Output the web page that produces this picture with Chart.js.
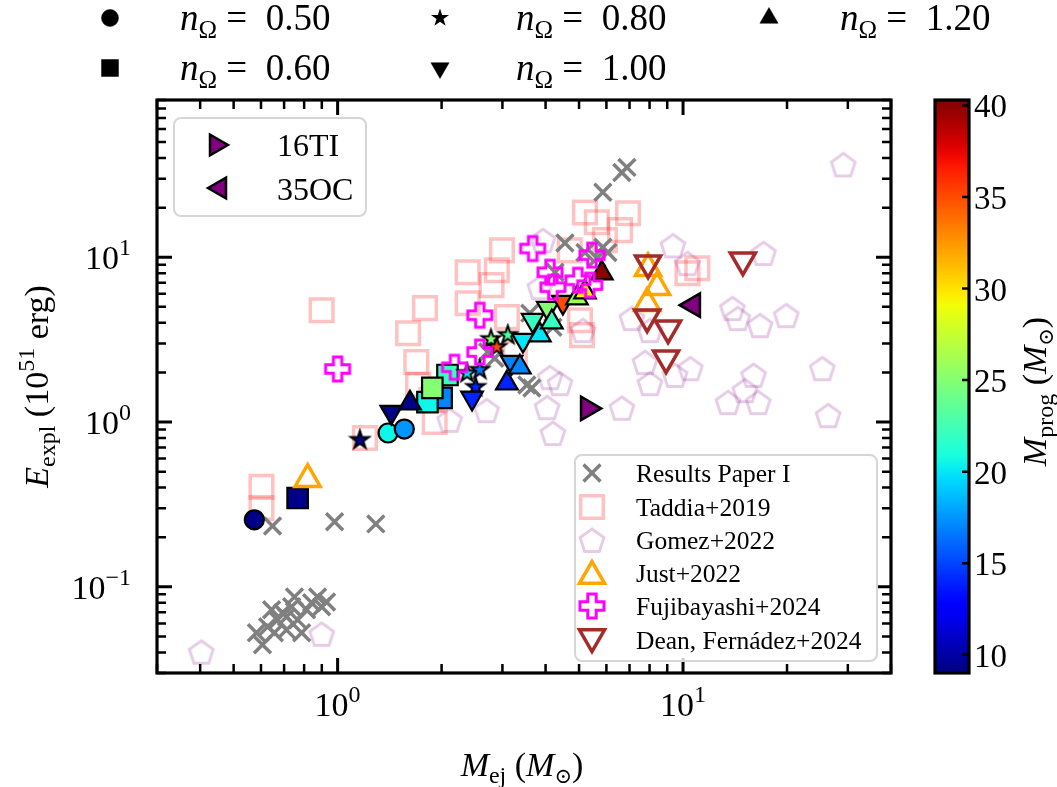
<!DOCTYPE html>
<html>
<head>
<meta charset="utf-8">
<script src="https://cdn.jsdelivr.net/npm/chart.js@4"></script>
<style>
  html, body { margin: 0; padding: 0; background: #fff; }
  #wrap { position: relative; width: 1057px; height: 787px; }
  #wrap canvas { position: absolute; left: 0; top: 0; }
</style>
</head>
<body>
<div id="wrap">
  <canvas id="main" width="1057" height="787"></canvas>
  <canvas id="cbar" width="1057" height="787"></canvas>
</div>
<script>
/* global Chart */

// Results Paper I
const paperIEj = [0.582, 0.606, 0.627, 0.644, 0.670, 0.693, 0.711, 0.736, 0.750, 0.766, 0.787, 0.813, 0.841, 0.875, 0.899, 0.929, 0.711, 0.656,
  0.648, 0.98, 1.29,
  2.72, 2.85, 3.53, 3.60, 4.2, 4.55, 5.2, 4.26, 5.86, 6.06, 5.63, 5.86, 6.65, 6.88, 3.65];
const paperIExpl = [0.0526, 0.0445, 0.0573, 0.0726, 0.063, 0.0696, 0.0548, 0.0757, 0.0869, 0.063, 0.0526, 0.0726, 0.080, 0.0869, 0.0757, 0.081, 0.0657, 0.0526,
  0.234, 0.248, 0.241,
  2.66, 2.44, 1.68, 4.58, 3.76, 12.2, 10.7, 8.11, 11.5, 10.7, 9.86, 24.8, 32.7, 35.1, 1.61];

// observations / other simulations
const taddiaEj = [0.899, 1.60, 1.79, 1.69, 1.71, 0.602, 0.602, 1.20, 1.91, 1.87, 2.38, 2.89, 2.99, 2.79, 2.38, 3.09, 3.26, 5.2, 5.63, 6.93, 6.57, 5.94, 4.7, 5.03, 5.10, 10.3, 11.0];
const taddiaExpl = [4.77, 3.46, 4.91, 2.31, 1.68, 0.404, 0.301, 0.80, 1.00, 1.36, 8.11, 8.34, 11.0, 6.77, 5.26, 4.33, 2.62, 18.7, 16.3, 18.5, 14.6, 12.7, 11.0, 4.15, 3.37, 8.0, 8.57];
const gomezEj = [0.403, 0.899, 29.1, 3.93, 9.35, 10.3, 17.1, 7.11, 8.02, 5.13, 13.9, 14.4, 16.7, 19.9, 7.76, 8.02, 9.48, 10.5, 16.0, 15.1, 13.5, 16.5, 25.3, 26.3, 6.65, 2.70, 4.04, 4.12, 2.11, 3.85, 4.40, 4.20];
const gomezExpl = [0.0404, 0.0519, 36.6, 12.7, 11.8, 9.2, 10.6, 4.27, 3.61, 3.61, 4.91, 4.27, 3.87, 4.45, 2.31, 1.72, 1.93, 2.12, 1.93, 1.56, 1.32, 1.32, 2.12, 1.10, 1.22, 1.18, 1.23, 1.87, 1.03, 6.58, 1.72, 0.858];
const justEj = [0.819, 7.92, 8.41, 7.87];
const justExpl = [0.45, 8.57, 6.58, 5.26];
const fujiEj = [1.0, 2.18, 2.58, 2.58, 3.67, 4.12, 4.20, 4.96, 5.45, 5.37];
const fujiExpl = [2.1, 2.15, 2.66, 4.45, 11.3, 8.11, 6.58, 7.25, 10.3, 6.77];
const deanEj = [7.92, 14.9, 7.87, 9.05, 8.93];
const deanExpl = [9.2, 9.6, 4.33, 3.71, 2.44];

// models, one set per n_Omega (ejecta mass, explosion energy, progenitor mass)
const n050Ej = [0.574, 1.40, 1.56];
const n050Expl = [0.255, 0.858, 0.907];
const n050Prog = [9.3, 20.5, 17.5];
const n060Ej = [2.08, 2.0, 1.82, 1.88, 0.766];
const n060Expl = [1.93, 1.40, 1.32, 1.61, 0.346];
const n060Prog = [22, 17, 20.5, 25, 9.3];
const n080Ej = [1.16, 2.51, 2.37, 2.58, 2.78, 2.89, 3.11];
const n080Expl = [0.778, 1.63, 1.98, 2.07, 3.18, 2.85, 3.37];
const n080Prog = [9.5, 14, 20, 16.5, 25, 35, 23];
const n100Ej = [1.43, 2.45, 3.19, 3.44, 3.67, 4.06, 4.49];
const n100Expl = [1.15, 1.40, 2.31, 3.14, 4.15, 4.91, 5.34];
const n100Prog = [9.3, 14, 17, 20, 22, 25, 35];
const n120Ej = [1.62, 3.09, 3.37, 3.85, 4.17, 4.93, 5.2, 5.82];
const n120Expl = [1.30, 1.72, 2.15, 3.37, 4.04, 5.65, 6.14, 8.0];
const n120Prog = [9.3, 14, 17, 20, 22, 26, 29.5, 40];
const ti16Ej = [5.3];
const ti16Expl = [1.21];
const oc35Ej = [10.7];
const oc35Expl = [5.12];

// axes
const xMin = 0.3, xMax = 40, yMin = 0.03, yMax = 90;
const cbMin = 9, cbMax = 40.3;
const cbTicks = [10, 15, 20, 25, 30, 35, 40];
const xTickLabels = [[1, '0'], [10, '1']];
const yTickLabels = [[0.1, '\u22121'], [1, '0'], [10, '1']];

const SERIF = '"Liberation Serif", "DejaVu Serif", serif';
const PURPLE = '#800080';

function pts(xs, ys) {
  return xs.map((x, i) => ({ x: x, y: ys[i] }));
}

// matplotlib jet
function jetRGB(t) {
  t = Math.min(1, Math.max(0, t));
  const f = (p) => {
    for (let i = 1; i < p.length; i++) {
      if (t <= p[i][0]) {
        const [x0, y0] = p[i - 1];
        const [x1, y1] = p[i];
        return y0 + (y1 - y0) * (t - x0) / (x1 - x0);
      }
    }
    return p[p.length - 1][1];
  };
  const r = f([[0, 0], [0.35, 0], [0.66, 1], [0.89, 1], [1, 0.5]]);
  const g = f([[0, 0], [0.125, 0], [0.375, 1], [0.64, 1], [0.91, 0], [1, 0]]);
  const b = f([[0, 0.5], [0.11, 1], [0.34, 1], [0.65, 0], [1, 0]]);
  return 'rgb(' + Math.round(r * 255) + ',' + Math.round(g * 255) + ',' + Math.round(b * 255) + ')';
}
const jet = (m) => jetRGB((m - cbMin) / (cbMax - cbMin));

function markerCanvas(size, draw) {
  const c = document.createElement('canvas');
  c.width = size;
  c.height = size;
  draw(c.getContext('2d'), size / 2);
  return c;
}

function starPath(g, cx, cy, R) {
  g.beginPath();
  for (let i = 0; i < 10; i++) {
    const a = -Math.PI / 2 + i * Math.PI / 5;
    const r = i % 2 ? R * 0.382 : R;
    const px = cx + r * Math.cos(a), py = cy + r * Math.sin(a);
    if (i === 0) g.moveTo(px, py); else g.lineTo(px, py);
  }
  g.closePath();
}

function starCanvas(color, R) {
  return markerCanvas(Math.ceil(R * 2 + 6), (g, c) => {
    starPath(g, c, c, R);
    g.fillStyle = color;
    g.fill();
    g.lineWidth = 2;
    g.strokeStyle = '#000';
    g.stroke();
  });
}

const pentagon = markerCanvas(32, (g, c) => {
  g.beginPath();
  for (let i = 0; i < 5; i++) {
    const a = -Math.PI / 2 + i * 2 * Math.PI / 5;
    const px = c + 12.5 * Math.cos(a), py = c + 1.5 + 12.5 * Math.sin(a);
    if (i === 0) g.moveTo(px, py); else g.lineTo(px, py);
  }
  g.closePath();
  g.lineWidth = 3;
  g.strokeStyle = 'rgba(128,0,128,0.2)';
  g.stroke();
});

const plusP = markerCanvas(32, (g, c) => {
  const h = 12, a = 4.2;
  const v = [[-a, -h], [a, -h], [a, -a], [h, -a], [h, a], [a, a], [a, h], [-a, h], [-a, a], [-h, a], [-h, -a], [-a, -a]];
  g.beginPath();
  v.forEach((p, i) => { if (i === 0) g.moveTo(c + p[0], c + p[1]); else g.lineTo(c + p[0], c + p[1]); });
  g.closePath();
  g.lineWidth = 3;
  g.strokeStyle = '#ff00ff';
  g.stroke();
});

function modelSet(ej, expl, prog, style, radius, rotation) {
  return {
    data: pts(ej, expl),
    pointStyle: style === 'star' ? prog.map((m) => starCanvas(jet(m), 9.5)) : style,
    pointRotation: rotation || 0,
    pointRadius: radius,
    pointBackgroundColor: prog.map(jet),
    pointBorderColor: '#000',
    pointBorderWidth: 2.2,
  };
}

// first dataset ends up on top
const datasets = [
  { data: pts(fujiEj, fujiExpl), pointStyle: plusP, pointRadius: 13 },
  { data: pts(deanEj, deanExpl), pointStyle: 'triangle', pointRotation: 180, pointRadius: 14.5, pointBackgroundColor: 'rgba(0,0,0,0)', pointBorderColor: '#a52a2a', pointBorderWidth: 3.5 },
  { data: pts(justEj, justExpl), pointStyle: 'triangle', pointRadius: 14.5, pointBackgroundColor: 'rgba(0,0,0,0)', pointBorderColor: '#ffa500', pointBorderWidth: 3.5 },
  { data: pts(ti16Ej, ti16Expl), pointStyle: 'triangle', pointRotation: 90, pointRadius: 13.5, pointBackgroundColor: PURPLE, pointBorderColor: '#000', pointBorderWidth: 2.5 },
  { data: pts(oc35Ej, oc35Expl), pointStyle: 'triangle', pointRotation: 270, pointRadius: 13.5, pointBackgroundColor: PURPLE, pointBorderColor: '#000', pointBorderWidth: 2.5 },
  modelSet(n120Ej, n120Expl, n120Prog, 'triangle', 12.5, 0),
  modelSet(n100Ej, n100Expl, n100Prog, 'triangle', 12.5, 180),
  modelSet(n080Ej, n080Expl, n080Prog, 'star', 10),
  modelSet(n060Ej, n060Expl, n060Prog, 'rect', 14.5),
  modelSet(n050Ej, n050Expl, n050Prog, 'circle', 9.5),
  { data: pts(paperIEj, paperIExpl), pointStyle: 'crossRot', pointRadius: 12, pointBorderColor: 'rgb(128,128,128)', pointBorderWidth: 3.5 },
  { data: pts(taddiaEj, taddiaExpl), pointStyle: 'rect', pointRadius: 16, pointBackgroundColor: 'rgba(0,0,0,0)', pointBorderColor: 'rgba(255,0,0,0.24)', pointBorderWidth: 3.5 },
  { data: pts(gomezEj, gomezExpl), pointStyle: pentagon, pointRadius: 13 },
];

function rich(ctx, parts, x, y, align) {
  const font = (p) => (p.i ? 'italic ' : '') + p.s + 'px ' + SERIF;
  let w = 0;
  parts.forEach((p) => { ctx.font = font(p); w += ctx.measureText(p.t).width; });
  let cx = align === 'center' ? x - w / 2 : align === 'right' ? x - w : x;
  parts.forEach((p) => {
    ctx.font = font(p);
    ctx.fillText(p.t, cx, y + (p.d || 0));
    cx += ctx.measureText(p.t).width;
  });
}

function logTicks(min, max) {
  const major = [], minor = [];
  for (let e = Math.floor(Math.log10(min)); e <= Math.ceil(Math.log10(max)); e++) {
    for (let m = 1; m < 10; m++) {
      const v = m * Math.pow(10, e);
      if (v < min * 0.999 || v > max * 1.001) continue;
      (m === 1 ? major : minor).push(v);
    }
  }
  return { major, minor };
}

function marker(ctx, style, x, y, r, fill, stroke, lw, rot) {
  ctx.save();
  ctx.fillStyle = fill;
  ctx.strokeStyle = stroke;
  ctx.lineWidth = lw;
  Chart.helpers.drawPoint(ctx, { pointStyle: style, radius: r, rotation: rot || 0, borderWidth: lw }, x, y);
  ctx.restore();
}

const framePlugin = {
  id: 'frame',
  afterDraw(chart) {
    const ctx = chart.ctx;
    const a = chart.chartArea;
    const xs = chart.scales.x, ys = chart.scales.y;
    ctx.save();
    ctx.strokeStyle = '#000';
    ctx.fillStyle = '#000';

    // inward ticks on four sides
    const xt = logTicks(xMin, xMax), yt = logTicks(yMin, yMax);
    const tick = (list, len, lw, horiz) => {
      ctx.lineWidth = lw;
      ctx.beginPath();
      list.forEach((v) => {
        if (horiz) {
          const p = xs.getPixelForValue(v);
          ctx.moveTo(p, a.bottom); ctx.lineTo(p, a.bottom - len);
          ctx.moveTo(p, a.top); ctx.lineTo(p, a.top + len);
        } else {
          const p = ys.getPixelForValue(v);
          ctx.moveTo(a.left, p); ctx.lineTo(a.left + len, p);
          ctx.moveTo(a.right, p); ctx.lineTo(a.right - len, p);
        }
      });
      ctx.stroke();
    };
    tick(xt.major, 15, 3, true);
    tick(xt.minor, 9, 2.5, true);
    tick(yt.major, 15, 3, false);
    tick(yt.minor, 9, 2.5, false);

    ctx.lineWidth = 3.2;
    ctx.strokeRect(a.left, a.top, a.right - a.left, a.bottom - a.top);

    // tick labels
    ctx.textBaseline = 'alphabetic';
    xTickLabels.forEach(([v, e]) => {
      rich(ctx, [{ t: '10', s: 34 }, { t: e, s: 24, d: -14 }], xs.getPixelForValue(v), 716, 'center');
    });
    yTickLabels.forEach(([v, e]) => {
      rich(ctx, [{ t: '10', s: 34 }, { t: e, s: 24, d: -14 }], 131, ys.getPixelForValue(v) + 12, 'right');
    });

    // axis titles
    rich(ctx, [{ t: 'M', s: 34, i: true }, { t: 'ej', s: 24, d: 7 }, { t: ' (', s: 34 }, { t: 'M', s: 34, i: true }, { t: '\u2299', s: 21, d: 7 }, { t: ')', s: 34 }],
      (a.left + a.right) / 2 - 2, 776, 'center');
    ctx.save();
    ctx.translate(48, (a.top + a.bottom) / 2);
    ctx.rotate(-Math.PI / 2);
    rich(ctx, [{ t: 'E', s: 34, i: true }, { t: 'expl', s: 24, d: 7 }, { t: ' (10', s: 34 }, { t: '51', s: 24, d: -14 }, { t: ' erg)', s: 34 }], 0, 0, 'center');
    ctx.restore();

    // legend of n_Omega symbols
    const nLeg = [
      ['circle', 110, 18, 8.5, 0, '0.50'],
      ['rect', 110, 68, 12, 0, '0.60'],
      ['star', 440, 18, 0, 0, '0.80'],
      ['triangle', 440, 68, 10.5, 180, '1.00'],
      ['triangle', 769, 18, 10.5, 0, '1.20'],
    ];
    nLeg.forEach(([st, x, y, r, rot, lab]) => {
      if (st === 'star') {
        starPath(ctx, x, y, 9.5);
        ctx.fill();
      } else {
        marker(ctx, st, x, y, r, '#000', '#000', 0.5, rot);
      }
      const tx = x < 300 ? 180 : x < 600 ? 516 : 840;
      rich(ctx, [{ t: 'n', s: 37, i: true }, { t: '\u03a9', s: 25, d: 8 }, { t: ' = ', s: 37 }, { t: ' ' + lab, s: 37 }], tx, y + 12, 'left');
    });

    // legend box, upper left
    const box = (x0, y0, x1, y1) => {
      ctx.save();
      ctx.beginPath();
      ctx.roundRect(x0, y0, x1 - x0, y1 - y0, 7);
      ctx.fillStyle = 'rgba(255,255,255,0.8)';
      ctx.fill();
      ctx.lineWidth = 2;
      ctx.strokeStyle = '#d6d6d6';
      ctx.stroke();
      ctx.restore();
    };
    box(174, 118, 366, 216);
    marker(ctx, 'triangle', 216, 145, 12, PURPLE, '#000', 2.5, 90);
    marker(ctx, 'triangle', 220, 188, 12, PURPLE, '#000', 2.5, 270);
    ctx.fillStyle = '#000';
    rich(ctx, [{ t: '16TI', s: 32 }], 277, 156, 'left');
    rich(ctx, [{ t: '35OC', s: 32 }], 277, 200, 'left');

    // legend box, lower right
    box(575, 455, 877, 661);
    const rows = [473, 507, 540, 573, 606, 640];
    marker(ctx, 'crossRot', 592, rows[0], 12, 'rgba(0,0,0,0)', 'rgb(128,128,128)', 3.5);
    marker(ctx, 'rect', 592, rows[1], 16, 'rgba(0,0,0,0)', 'rgba(255,0,0,0.24)', 3.5);
    ctx.drawImage(pentagon, 592 - 16, rows[2] - 16);
    marker(ctx, 'triangle', 592, rows[3] + 3, 14.5, 'rgba(0,0,0,0)', '#ffa500', 3.5);
    ctx.drawImage(plusP, 592 - 16, rows[4] - 16);
    marker(ctx, 'triangle', 592, rows[5] - 3, 14.5, 'rgba(0,0,0,0)', '#a52a2a', 3.5, 180);
    ctx.fillStyle = '#000';
    const names = ['Results Paper I', 'Taddia+2019', 'Gomez+2022', 'Just+2022', 'Fujibayashi+2024', 'Dean, Fern\u00e1dez+2024'];
    names.forEach((n, i) => rich(ctx, [{ t: n, s: 25.5 }], 636, rows[i] + 9, 'left'));
    ctx.restore();
  },
};

new Chart(document.getElementById('main'), {
  type: 'scatter',
  data: { datasets: datasets },
  options: {
    responsive: false,
    animation: false,
    devicePixelRatio: 1,
    layout: { padding: { left: 0, right: 166, top: 100, bottom: 0 } },
    plugins: { legend: { display: false }, tooltip: { enabled: false } },
    scales: {
      x: {
        type: 'logarithmic', min: xMin, max: xMax,
        grid: { display: false }, border: { display: false }, ticks: { display: false },
        afterFit: (s) => { s.height = 114; },
      },
      y: {
        type: 'logarithmic', min: yMin, max: yMax,
        grid: { display: false }, border: { display: false }, ticks: { display: false },
        afterFit: (s) => { s.width = 157; },
      },
    },
  },
  plugins: [framePlugin],
});

// colour bar
const cbarPlugin = {
  id: 'cbar',
  afterDraw(chart) {
    const ctx = chart.ctx;
    const a = chart.chartArea;
    const ys = chart.scales.y;
    ctx.save();
    const g = ctx.createLinearGradient(0, ys.getPixelForValue(cbMin), 0, ys.getPixelForValue(cbMax));
    for (let i = 0; i <= 50; i++) g.addColorStop(i / 50, jetRGB(i / 50));
    ctx.fillStyle = g;
    ctx.fillRect(a.left, a.top, a.right - a.left, a.bottom - a.top);
    ctx.strokeStyle = '#000';
    ctx.lineWidth = 2.5;
    ctx.beginPath();
    cbTicks.forEach((v) => {
      const p = ys.getPixelForValue(v);
      ctx.moveTo(a.right, p);
      ctx.lineTo(a.right - 7, p);
    });
    ctx.stroke();
    ctx.lineWidth = 3.2;
    ctx.strokeRect(a.left, a.top, a.right - a.left, a.bottom - a.top);
    ctx.fillStyle = '#000';
    cbTicks.forEach((v) => {
      rich(ctx, [{ t: String(v), s: 33 }], a.right + 5, ys.getPixelForValue(v) + 12, 'left');
    });
    ctx.translate(1046, (a.top + a.bottom) / 2 + 5);
    ctx.rotate(-Math.PI / 2);
    rich(ctx, [{ t: 'M', s: 34, i: true }, { t: 'prog', s: 24, d: 7 }, { t: ' (', s: 34 }, { t: 'M', s: 34, i: true }, { t: '\u2299', s: 21, d: 7 }, { t: ')', s: 34 }], 0, 0, 'center');
    ctx.restore();
  },
};

new Chart(document.getElementById('cbar'), {
  type: 'scatter',
  data: { datasets: [] },
  options: {
    responsive: false,
    animation: false,
    devicePixelRatio: 1,
    layout: { padding: { left: 935, right: 0, top: 100, bottom: 114 } },
    plugins: { legend: { display: false }, tooltip: { enabled: false } },
    scales: {
      x: { display: false },
      y: {
        type: 'linear', position: 'right', min: cbMin, max: cbMax,
        grid: { display: false }, border: { display: false }, ticks: { display: false },
        afterFit: (s) => { s.width = 88; },
      },
    },
  },
  plugins: [cbarPlugin],
});
</script>
</body>
</html>
